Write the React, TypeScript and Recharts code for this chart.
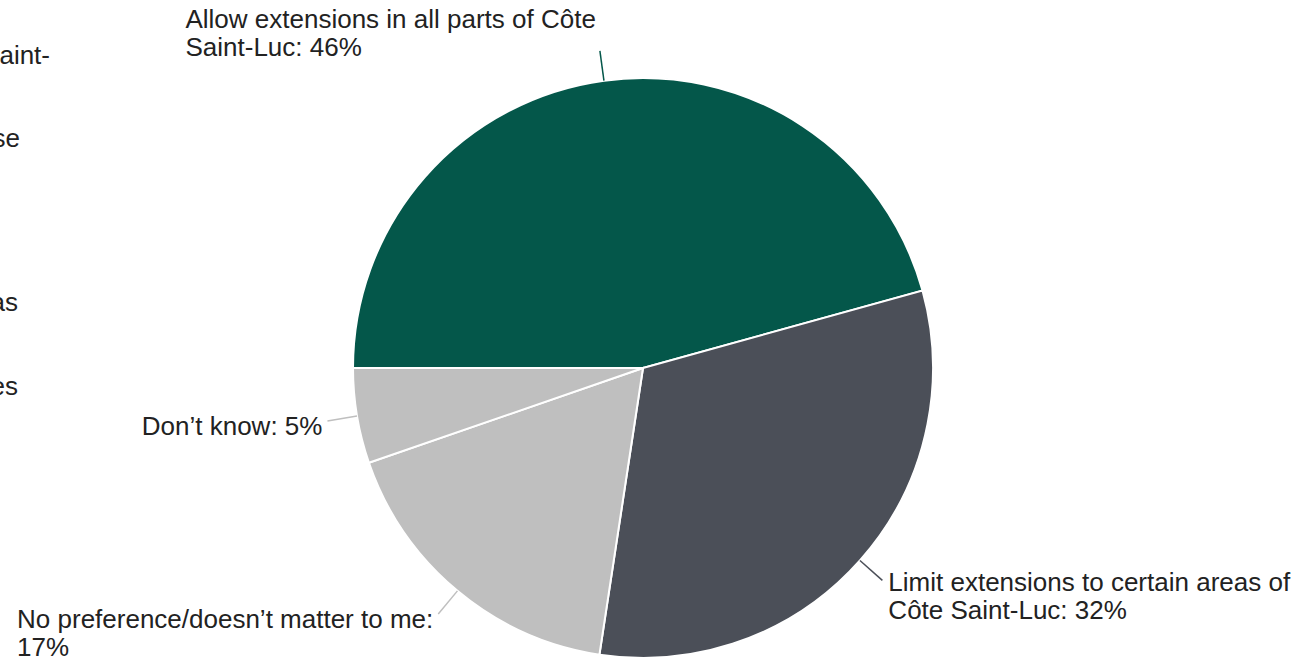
import { PieChart, Pie, Cell } from 'recharts';

// answers to the extension question, clockwise from 9 o'clock
const categories = [
  'Allow extensions in all parts of Côte Saint-Luc',
  'Limit extensions to certain areas of Côte Saint-Luc',
  'No preference/doesn\u2019t matter to me',
  'Don\u2019t know',
];
const shares = [45.7, 31.7, 17.3, 5.3];
const labelLines = [
  ['Allow extensions in all parts of Côte', 'Saint-Luc: 46%'],
  ['Limit extensions to certain areas of', 'Côte Saint-Luc: 32%'],
  ['No preference/doesn\u2019t matter to me:', '17%'],
  ['Don\u2019t know: 5%'],
];
const sliceColors = ['#04574a', '#4b4f58', '#bfbfbf', '#bfbfbf'];

// cut-off text from the neighbouring panel on the left
const sideFragments = ['aint-', 'se', 'as', 'es'];

const data = categories.map((name, i) => ({ name, value: shares[i] }));

const FONT_SIZE = 26;
const LINE_H = 28;
const FONT_FAMILY = '"Liberation Sans", Arial, sans-serif';
const TEXT_COLOR = '#222222';
const RAD = Math.PI / 180;

let ctx: CanvasRenderingContext2D | null = null;
function textWidth(s: string) {
  if (!ctx) ctx = document.createElement('canvas').getContext('2d');
  if (!ctx) return s.length * FONT_SIZE * 0.52;
  ctx.font = `${FONT_SIZE}px ${FONT_FAMILY}`;
  return ctx.measureText(s).width;
}

function renderLabel(props: any) {
  const { cx, cy, midAngle, outerRadius, index } = props;
  const lines = labelLines[index];
  const cos = Math.cos(midAngle * RAD);
  const sin = Math.sin(midAngle * RAD);
  const sx = cx + outerRadius * cos;
  const sy = cy - outerRadius * sin;
  const ex = cx + (outerRadius + 30) * cos;
  const ey = cy - (outerRadius + 30) * sin;
  const blockW = Math.max(...lines.map(textWidth));

  // x0 = left edge of the text block, y0 = middle of its first line
  let x0: number;
  let y0: number;
  if (sin > 0.9) {
    x0 = ex - 4 - blockW;
    y0 = ey - 4 - (lines.length - 1) * LINE_H;
  } else if (cos >= 0) {
    x0 = ex + 6;
    y0 = ey + 2;
  } else {
    x0 = ex - 5 - blockW;
    y0 = ey + 5;
  }

  return (
    <g key={`lbl-${index}`}>
      <path d={`M${sx},${sy}L${ex},${ey}`} stroke={sliceColors[index]} strokeWidth={1.5} fill="none" />
      <text fontSize={FONT_SIZE} fontFamily={FONT_FAMILY} fill={TEXT_COLOR}>
        {lines.map((l, i) => (
          <tspan key={i} x={x0} y={y0 + i * LINE_H + FONT_SIZE * 0.35}>
            {l}
          </tspan>
        ))}
      </text>
    </g>
  );
}

const fragmentRight = [50, 20, 18, 18];
const fragmentMid = [55, 138, 302, 386];

export default function App() {
  return (
    <div
      style={{
        position: 'absolute',
        left: 0,
        top: 0,
        width: 1298,
        height: 659,
        overflow: 'hidden',
        background: '#fff',
      }}
    >
      {sideFragments.map((f, i) => (
        <div
          key={f}
          style={{
            position: 'absolute',
            left: fragmentRight[i] - 200,
            width: 200,
            top: fragmentMid[i] - 15,
            height: 30,
            lineHeight: '30px',
            textAlign: 'right',
            fontFamily: FONT_FAMILY,
            fontSize: FONT_SIZE,
            color: TEXT_COLOR,
          }}
        >
          {f}
        </div>
      ))}
      <PieChart
        width={1298}
        height={659}
        margin={{ top: 0, right: 0, bottom: 0, left: 0 }}
        style={{ position: 'absolute', left: 0, top: 0 }}
      >
        <Pie
          data={data}
          dataKey="value"
          nameKey="name"
          cx={643}
          cy={368}
          outerRadius={290}
          startAngle={180}
          endAngle={-180}
          stroke="#ffffff"
          strokeWidth={2}
          label={renderLabel}
          labelLine={false}
          isAnimationActive={false}
        >
          {data.map((d, i) => (
            <Cell key={d.name} fill={sliceColors[i]} />
          ))}
        </Pie>
      </PieChart>
    </div>
  );
}
